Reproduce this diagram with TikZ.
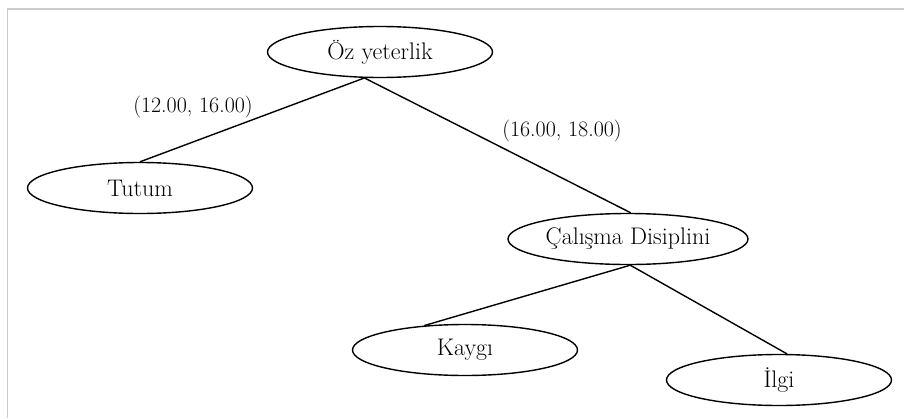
\documentclass[tikz,border=0pt]{standalone}
\usepackage{fontspec}
\usetikzlibrary{shapes.geometric}

\begin{document}
\begin{tikzpicture}[x=1pt, y=-1pt, line width=1.4pt,
	oval/.style={draw, ellipse, minimum width=225pt, minimum height=51pt, inner sep=0pt, font=\fontsize{24}{28}\selectfont},
	weight/.style={inner sep=0pt, font=\fontsize{22}{26}\selectfont}]
	\useasboundingbox (0, 0) rectangle (904, 418);
	% frame of the screenshot
	\draw[line width=1.5pt, black!20] (904, 9) -- (7.5, 9) -- (7.5, 418);

	\node[oval] (ozyeterlik) at (380, 52) {Öz yeterlik};
	\node[oval] (tutum) at (140, 188) {Tutum};
	\node[oval, minimum width=240pt] (calisma) at (628, 239) {Çalışma Disiplini};
	\node[oval] (kaygi) at (465, 350) {Kaygı};
	\node[oval] (ilgi) at (779, 380) {İlgi};

	\draw (ozyeterlik.239) -- (tutum.north);
	\draw (ozyeterlik.239) -- (calisma.84);
	\draw (calisma.275) -- (kaygi.149);
	\draw (calisma.275) -- (ilgi.73);

	\node[weight] (w1) at (193, 107) {(12.00, 16.00)};
	\node[weight] (w2) at (562, 131) {(16.00, 18.00)};
\end{tikzpicture}
\end{document}
